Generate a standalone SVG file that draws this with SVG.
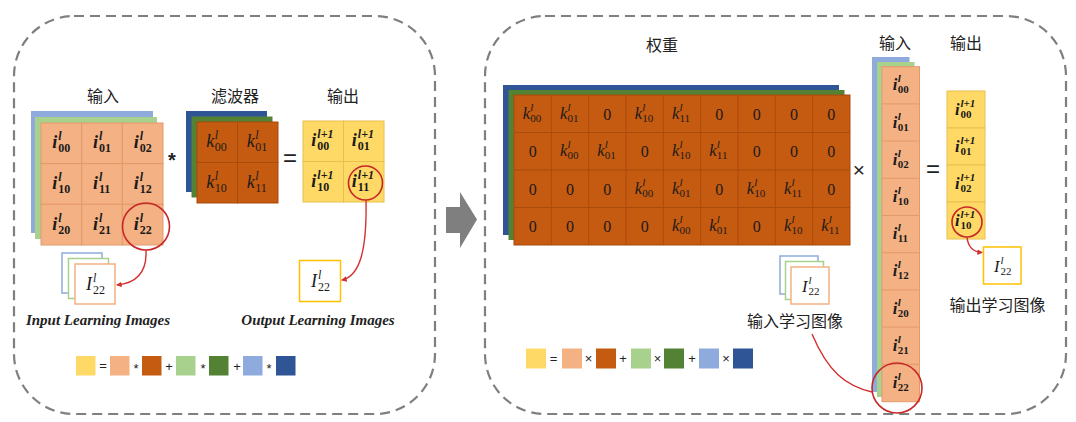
<svg xmlns="http://www.w3.org/2000/svg" width="1076" height="422" viewBox="0 0 1076 422">
  <style>
    .panel { fill: none; stroke: #7f7f7f; stroke-width: 2.2; stroke-dasharray: 10 6; }
    .lo { fill: #F4B183; stroke: #E39A6A; stroke-width: 1; }
    .do { fill: #C55A11; stroke: #A94B0C; stroke-width: 1; }
    .lg { fill: #A9D18E; }
    .dg { fill: #548235; }
    .lb { fill: #8FAADC; }
    .db { fill: #2F5597; }
    .ye { fill: #FFD966; stroke: #E8C04E; stroke-width: 1; }
    .cjk { font-family: "Noto Sans CJK SC", "Noto Sans", sans-serif; font-size: 16px; fill: #222; text-anchor: middle; }
    .op { font-family: "Liberation Sans", "DejaVu Sans", sans-serif; fill: #222; text-anchor: middle; }
    .m { font-family: "Liberation Serif", "DejaVu Serif", serif; font-size: 18px; fill: #1a1a1a; }
    .m .b { font-style: italic; }
    .m .sp { font-style: italic; font-size: 12px; }
    .m .sb { font-size: 12px; }
    .mb { font-weight: bold; }
    .mk { font-size: 16.5px; }
    .mk .sp, .mk .sb { font-size: 11px; }
    .zero { font-family: "Liberation Serif", "DejaVu Serif", serif; font-size: 16px; fill: #1a1a1a; text-anchor: middle; }
    .cap { font-family: "Liberation Serif", "Times New Roman", serif; font-style: italic; font-weight: bold; font-size: 15px; fill: #222; text-anchor: middle; }
    .ring { fill: none; stroke: #C62828; stroke-width: 1.6; }
    .link { fill: none; stroke: #D32F2F; stroke-width: 1.4; }
    .imgbox { fill: #fff; stroke-width: 1.5; }
    .leg { stroke: none; }
  </style>
  <defs>
    <marker id="arr" viewBox="0 0 6 6" refX="5" refY="3" markerWidth="4" markerHeight="4" orient="auto">
      <path d="M0,0 L6,3 L0,6 Z" fill="#D32F2F"/>
    </marker>
  </defs>

  <!-- dashed panels -->
  <rect class="panel" x="14" y="16" width="421" height="398" rx="60"/>
  <rect class="panel" x="485" y="16" width="581" height="398" rx="60"/>

  <!-- transition arrow between panels -->
  <polygon points="446,207 460,207 460,192 477,219.5 460,248 460,233 446,233" fill="#7f7f7f"/>

  <!-- ===== left panel ===== -->
  <g id="input-grid">
    <text class="cjk" x="103" y="102">输入</text>
    <rect class="lb" x="31" y="111" width="122" height="122"/>
    <rect class="lg" x="35" y="117" width="122" height="122"/>
    <g>
      <rect class="lo" x="41" y="123" width="40.7" height="40.7"/>
      <rect class="lo" x="81.7" y="123" width="40.7" height="40.7"/>
      <rect class="lo" x="122.3" y="123" width="40.7" height="40.7"/>
      <rect class="lo" x="41" y="163.7" width="40.7" height="40.7"/>
      <rect class="lo" x="81.7" y="163.7" width="40.7" height="40.7"/>
      <rect class="lo" x="122.3" y="163.7" width="40.7" height="40.7"/>
      <rect class="lo" x="41" y="204.3" width="40.7" height="40.7"/>
      <rect class="lo" x="81.7" y="204.3" width="40.7" height="40.7"/>
      <rect class="lo" x="122.3" y="204.3" width="40.7" height="40.7"/>
    </g>
    <text class="m mb" transform="translate(61.3,143.3)"><tspan class="b" x="-9" y="5">i</tspan><tspan class="sp" x="-3" y="-3">l</tspan><tspan class="sb" x="-3" y="9">00</tspan></text>
    <text class="m mb" transform="translate(102,143.3)"><tspan class="b" x="-9" y="5">i</tspan><tspan class="sp" x="-3" y="-3">l</tspan><tspan class="sb" x="-3" y="9">01</tspan></text>
    <text class="m mb" transform="translate(142.7,143.3)"><tspan class="b" x="-9" y="5">i</tspan><tspan class="sp" x="-3" y="-3">l</tspan><tspan class="sb" x="-3" y="9">02</tspan></text>
    <text class="m mb" transform="translate(61.3,184)"><tspan class="b" x="-9" y="5">i</tspan><tspan class="sp" x="-3" y="-3">l</tspan><tspan class="sb" x="-3" y="9">10</tspan></text>
    <text class="m mb" transform="translate(102,184)"><tspan class="b" x="-9" y="5">i</tspan><tspan class="sp" x="-3" y="-3">l</tspan><tspan class="sb" x="-3" y="9">11</tspan></text>
    <text class="m mb" transform="translate(142.7,184)"><tspan class="b" x="-9" y="5">i</tspan><tspan class="sp" x="-3" y="-3">l</tspan><tspan class="sb" x="-3" y="9">12</tspan></text>
    <text class="m mb" transform="translate(61.3,224.7)"><tspan class="b" x="-9" y="5">i</tspan><tspan class="sp" x="-3" y="-3">l</tspan><tspan class="sb" x="-3" y="9">20</tspan></text>
    <text class="m mb" transform="translate(102,224.7)"><tspan class="b" x="-9" y="5">i</tspan><tspan class="sp" x="-3" y="-3">l</tspan><tspan class="sb" x="-3" y="9">21</tspan></text>
    <text class="m mb" transform="translate(142.7,224.7)"><tspan class="b" x="-9" y="5">i</tspan><tspan class="sp" x="-3" y="-3">l</tspan><tspan class="sb" x="-3" y="9">22</tspan></text>
    <circle class="ring" cx="146" cy="226.5" r="23.5"/>
  </g>

  <text class="op" x="172" y="167" font-size="20" font-weight="bold">*</text>

  <g id="filter">
    <text class="cjk" x="235" y="102">滤波器</text>
    <rect class="db" x="186" y="111" width="81" height="81"/>
    <rect class="dg" x="191.5" y="116.5" width="81" height="81"/>
    <rect class="do" x="197" y="122" width="40.5" height="40.5"/>
    <rect class="do" x="237.5" y="122" width="40.5" height="40.5"/>
    <rect class="do" x="197" y="162.5" width="40.5" height="40.5"/>
    <rect class="do" x="237.5" y="162.5" width="40.5" height="40.5"/>
    <text class="m" transform="translate(217.3,142.3)"><tspan class="b" x="-11" y="5">k</tspan><tspan class="sp" x="-2.5" y="-3">l</tspan><tspan class="sb" x="-2.5" y="9">00</tspan></text>
    <text class="m" transform="translate(257.8,142.3)"><tspan class="b" x="-11" y="5">k</tspan><tspan class="sp" x="-2.5" y="-3">l</tspan><tspan class="sb" x="-2.5" y="9">01</tspan></text>
    <text class="m" transform="translate(217.3,182.8)"><tspan class="b" x="-11" y="5">k</tspan><tspan class="sp" x="-2.5" y="-3">l</tspan><tspan class="sb" x="-2.5" y="9">10</tspan></text>
    <text class="m" transform="translate(257.8,182.8)"><tspan class="b" x="-11" y="5">k</tspan><tspan class="sp" x="-2.5" y="-3">l</tspan><tspan class="sb" x="-2.5" y="9">11</tspan></text>
  </g>

  <text class="op" x="290" y="166" font-size="24">=</text>

  <g id="output-grid">
    <text class="cjk" x="343" y="102">输出</text>
    <rect class="ye" x="303" y="121" width="40.5" height="40.5"/>
    <rect class="ye" x="343.5" y="121" width="40.5" height="40.5"/>
    <rect class="ye" x="303" y="161.5" width="40.5" height="40.5"/>
    <rect class="ye" x="343.5" y="161.5" width="40.5" height="40.5"/>
    <text class="m mb" transform="translate(323.3,141.3)"><tspan class="b" x="-12" y="5">i</tspan><tspan class="sp" x="-6" y="-3">l+1</tspan><tspan class="sb" x="-6" y="9">00</tspan></text>
    <text class="m mb" transform="translate(363.8,141.3)"><tspan class="b" x="-12" y="5">i</tspan><tspan class="sp" x="-6" y="-3">l+1</tspan><tspan class="sb" x="-6" y="9">01</tspan></text>
    <text class="m mb" transform="translate(323.3,181.8)"><tspan class="b" x="-12" y="5">i</tspan><tspan class="sp" x="-6" y="-3">l+1</tspan><tspan class="sb" x="-6" y="9">10</tspan></text>
    <text class="m mb" transform="translate(363.8,181.8)"><tspan class="b" x="-12" y="5">i</tspan><tspan class="sp" x="-6" y="-3">l+1</tspan><tspan class="sb" x="-6" y="9">11</tspan></text>
    <circle class="ring" cx="365.5" cy="183" r="17"/>
  </g>

  <g id="input-images-left">
    <rect class="imgbox" x="62" y="253" width="40" height="40" stroke="#8FAADC"/>
    <rect class="imgbox" x="68.5" y="258.5" width="40" height="40" stroke="#A9D18E"/>
    <rect class="imgbox" x="75" y="264" width="40" height="40" stroke="#F4B183"/>
    <text class="m" transform="translate(95,284)"><tspan class="b" x="-9" y="6">I</tspan><tspan class="sp" x="-2" y="-2">l</tspan><tspan class="sb" x="-2" y="10">22</tspan></text>
    <text class="cap" x="98" y="325">Input Learning Images</text>
  </g>

  <g id="output-image-left">
    <rect class="imgbox" x="299.5" y="260.5" width="41" height="41" stroke="#FFC000"/>
    <text class="m" transform="translate(320,281)"><tspan class="b" x="-9" y="6">I</tspan><tspan class="sp" x="-2" y="-2">l</tspan><tspan class="sb" x="-2" y="10">22</tspan></text>
    <text class="cap" x="318" y="325">Output Learning Images</text>
  </g>

  <g id="legend-left">
    <rect class="leg" x="76" y="356" width="19.5" height="19.5" fill="#FFD966"/>
    <text class="op" x="103" y="370" font-size="13">=</text>
    <rect class="leg" x="110" y="356" width="19.5" height="19.5" fill="#F4B183"/>
    <text class="op" x="136" y="373" font-size="13">*</text>
    <rect class="leg" x="142" y="356" width="19.5" height="19.5" fill="#C55A11"/>
    <text class="op" x="169" y="371" font-size="13">+</text>
    <rect class="leg" x="176" y="356" width="19.5" height="19.5" fill="#A9D18E"/>
    <text class="op" x="203" y="373" font-size="13">*</text>
    <rect class="leg" x="209" y="356" width="19.5" height="19.5" fill="#548235"/>
    <text class="op" x="237" y="371" font-size="13">+</text>
    <rect class="leg" x="243" y="356" width="19.5" height="19.5" fill="#8FAADC"/>
    <text class="op" x="269" y="373" font-size="13">*</text>
    <rect class="leg" x="276" y="356" width="19.5" height="19.5" fill="#2F5597"/>
  </g>

  <!-- ===== right panel ===== -->
  <g id="weights">
    <text class="cjk" x="662" y="51">权重</text>
    <rect class="db" x="503" y="85" width="336" height="150"/>
    <rect class="dg" x="508.5" y="90" width="336" height="150"/>
    <rect class="do" x="514" y="95" width="336" height="150"/>
    <g stroke="#A94B0C" stroke-width="1">
      <line x1="551.3" y1="95" x2="551.3" y2="245"/>
      <line x1="588.7" y1="95" x2="588.7" y2="245"/>
      <line x1="626" y1="95" x2="626" y2="245"/>
      <line x1="663.3" y1="95" x2="663.3" y2="245"/>
      <line x1="700.7" y1="95" x2="700.7" y2="245"/>
      <line x1="738" y1="95" x2="738" y2="245"/>
      <line x1="775.3" y1="95" x2="775.3" y2="245"/>
      <line x1="812.7" y1="95" x2="812.7" y2="245"/>
      <line x1="514" y1="132.5" x2="850" y2="132.5"/>
      <line x1="514" y1="170" x2="850" y2="170"/>
      <line x1="514" y1="207.5" x2="850" y2="207.5"/>
    </g>
    <!-- row 0 -->
    <text class="m mk" transform="translate(532.7,113.8)"><tspan class="b" x="-10" y="5">k</tspan><tspan class="sp" x="-2.5" y="-3">l</tspan><tspan class="sb" x="-2.5" y="8">00</tspan></text>
    <text class="m mk" transform="translate(570,113.8)"><tspan class="b" x="-10" y="5">k</tspan><tspan class="sp" x="-2.5" y="-3">l</tspan><tspan class="sb" x="-2.5" y="8">01</tspan></text>
    <text class="zero" x="607.3" y="119.5">0</text>
    <text class="m mk" transform="translate(644.7,113.8)"><tspan class="b" x="-10" y="5">k</tspan><tspan class="sp" x="-2.5" y="-3">l</tspan><tspan class="sb" x="-2.5" y="8">10</tspan></text>
    <text class="m mk" transform="translate(682,113.8)"><tspan class="b" x="-10" y="5">k</tspan><tspan class="sp" x="-2.5" y="-3">l</tspan><tspan class="sb" x="-2.5" y="8">11</tspan></text>
    <text class="zero" x="719.3" y="119.5">0</text>
    <text class="zero" x="756.7" y="119.5">0</text>
    <text class="zero" x="794" y="119.5">0</text>
    <text class="zero" x="831.3" y="119.5">0</text>
    <!-- row 1 -->
    <text class="zero" x="532.7" y="157">0</text>
    <text class="m mk" transform="translate(570,151.3)"><tspan class="b" x="-10" y="5">k</tspan><tspan class="sp" x="-2.5" y="-3">l</tspan><tspan class="sb" x="-2.5" y="8">00</tspan></text>
    <text class="m mk" transform="translate(607.3,151.3)"><tspan class="b" x="-10" y="5">k</tspan><tspan class="sp" x="-2.5" y="-3">l</tspan><tspan class="sb" x="-2.5" y="8">01</tspan></text>
    <text class="zero" x="644.7" y="157">0</text>
    <text class="m mk" transform="translate(682,151.3)"><tspan class="b" x="-10" y="5">k</tspan><tspan class="sp" x="-2.5" y="-3">l</tspan><tspan class="sb" x="-2.5" y="8">10</tspan></text>
    <text class="m mk" transform="translate(719.3,151.3)"><tspan class="b" x="-10" y="5">k</tspan><tspan class="sp" x="-2.5" y="-3">l</tspan><tspan class="sb" x="-2.5" y="8">11</tspan></text>
    <text class="zero" x="756.7" y="157">0</text>
    <text class="zero" x="794" y="157">0</text>
    <text class="zero" x="831.3" y="157">0</text>
    <!-- row 2 -->
    <text class="zero" x="532.7" y="194.5">0</text>
    <text class="zero" x="570" y="194.5">0</text>
    <text class="zero" x="607.3" y="194.5">0</text>
    <text class="m mk" transform="translate(644.7,188.8)"><tspan class="b" x="-10" y="5">k</tspan><tspan class="sp" x="-2.5" y="-3">l</tspan><tspan class="sb" x="-2.5" y="8">00</tspan></text>
    <text class="m mk" transform="translate(682,188.8)"><tspan class="b" x="-10" y="5">k</tspan><tspan class="sp" x="-2.5" y="-3">l</tspan><tspan class="sb" x="-2.5" y="8">01</tspan></text>
    <text class="zero" x="719.3" y="194.5">0</text>
    <text class="m mk" transform="translate(756.7,188.8)"><tspan class="b" x="-10" y="5">k</tspan><tspan class="sp" x="-2.5" y="-3">l</tspan><tspan class="sb" x="-2.5" y="8">10</tspan></text>
    <text class="m mk" transform="translate(794,188.8)"><tspan class="b" x="-10" y="5">k</tspan><tspan class="sp" x="-2.5" y="-3">l</tspan><tspan class="sb" x="-2.5" y="8">11</tspan></text>
    <text class="zero" x="831.3" y="194.5">0</text>
    <!-- row 3 -->
    <text class="zero" x="532.7" y="232">0</text>
    <text class="zero" x="570" y="232">0</text>
    <text class="zero" x="607.3" y="232">0</text>
    <text class="zero" x="644.7" y="232">0</text>
    <text class="m mk" transform="translate(682,226.3)"><tspan class="b" x="-10" y="5">k</tspan><tspan class="sp" x="-2.5" y="-3">l</tspan><tspan class="sb" x="-2.5" y="8">00</tspan></text>
    <text class="m mk" transform="translate(719.3,226.3)"><tspan class="b" x="-10" y="5">k</tspan><tspan class="sp" x="-2.5" y="-3">l</tspan><tspan class="sb" x="-2.5" y="8">01</tspan></text>
    <text class="zero" x="756.7" y="232">0</text>
    <text class="m mk" transform="translate(794,226.3)"><tspan class="b" x="-10" y="5">k</tspan><tspan class="sp" x="-2.5" y="-3">l</tspan><tspan class="sb" x="-2.5" y="8">10</tspan></text>
    <text class="m mk" transform="translate(831.3,226.3)"><tspan class="b" x="-10" y="5">k</tspan><tspan class="sp" x="-2.5" y="-3">l</tspan><tspan class="sb" x="-2.5" y="8">11</tspan></text>
  </g>

  <text class="op" x="859" y="177" font-size="21">×</text>

  <g id="input-column">
    <text class="cjk" x="895" y="49">输入</text>
    <rect class="lb" x="872" y="57" width="37.5" height="335"/>
    <rect class="lg" x="877" y="62" width="37.5" height="335"/>
    <rect class="lo" x="882" y="66.7" width="37.5" height="335"/>
    <g stroke="#E39A6A" stroke-width="1">
      <line x1="882" y1="103.9" x2="919.5" y2="103.9"/>
      <line x1="882" y1="141.1" x2="919.5" y2="141.1"/>
      <line x1="882" y1="178.3" x2="919.5" y2="178.3"/>
      <line x1="882" y1="215.5" x2="919.5" y2="215.5"/>
      <line x1="882" y1="252.7" x2="919.5" y2="252.7"/>
      <line x1="882" y1="289.9" x2="919.5" y2="289.9"/>
      <line x1="882" y1="327.1" x2="919.5" y2="327.1"/>
      <line x1="882" y1="364.3" x2="919.5" y2="364.3"/>
    </g>
    <text class="m mb mk" transform="translate(900.7,85.3)"><tspan class="b" x="-8" y="5">i</tspan><tspan class="sp" x="-3" y="-3">l</tspan><tspan class="sb" x="-3" y="8">00</tspan></text>
    <text class="m mb mk" transform="translate(900.7,122.5)"><tspan class="b" x="-8" y="5">i</tspan><tspan class="sp" x="-3" y="-3">l</tspan><tspan class="sb" x="-3" y="8">01</tspan></text>
    <text class="m mb mk" transform="translate(900.7,159.7)"><tspan class="b" x="-8" y="5">i</tspan><tspan class="sp" x="-3" y="-3">l</tspan><tspan class="sb" x="-3" y="8">02</tspan></text>
    <text class="m mb mk" transform="translate(900.7,196.9)"><tspan class="b" x="-8" y="5">i</tspan><tspan class="sp" x="-3" y="-3">l</tspan><tspan class="sb" x="-3" y="8">10</tspan></text>
    <text class="m mb mk" transform="translate(900.7,234.1)"><tspan class="b" x="-8" y="5">i</tspan><tspan class="sp" x="-3" y="-3">l</tspan><tspan class="sb" x="-3" y="8">11</tspan></text>
    <text class="m mb mk" transform="translate(900.7,271.3)"><tspan class="b" x="-8" y="5">i</tspan><tspan class="sp" x="-3" y="-3">l</tspan><tspan class="sb" x="-3" y="8">12</tspan></text>
    <text class="m mb mk" transform="translate(900.7,308.5)"><tspan class="b" x="-8" y="5">i</tspan><tspan class="sp" x="-3" y="-3">l</tspan><tspan class="sb" x="-3" y="8">20</tspan></text>
    <text class="m mb mk" transform="translate(900.7,345.7)"><tspan class="b" x="-8" y="5">i</tspan><tspan class="sp" x="-3" y="-3">l</tspan><tspan class="sb" x="-3" y="8">21</tspan></text>
    <text class="m mb mk" transform="translate(900.7,382.9)"><tspan class="b" x="-8" y="5">i</tspan><tspan class="sp" x="-3" y="-3">l</tspan><tspan class="sb" x="-3" y="8">22</tspan></text>
    <circle class="ring" cx="897" cy="388" r="25"/>
  </g>

  <text class="op" x="933" y="177" font-size="24">=</text>

  <g id="output-column">
    <text class="cjk" x="966" y="49">输出</text>
    <rect class="ye" x="947" y="91" width="38" height="37"/>
    <rect class="ye" x="947" y="128" width="38" height="37"/>
    <rect class="ye" x="947" y="165" width="38" height="37"/>
    <rect class="ye" x="947" y="202" width="38" height="37"/>
    <text class="m mb mk" transform="translate(966,109.5)"><tspan class="b" x="-11" y="5">i</tspan><tspan class="sp" x="-5.5" y="-3">l+1</tspan><tspan class="sb" x="-5.5" y="8">00</tspan></text>
    <text class="m mb mk" transform="translate(966,146.5)"><tspan class="b" x="-11" y="5">i</tspan><tspan class="sp" x="-5.5" y="-3">l+1</tspan><tspan class="sb" x="-5.5" y="8">01</tspan></text>
    <text class="m mb mk" transform="translate(966,183.5)"><tspan class="b" x="-11" y="5">i</tspan><tspan class="sp" x="-5.5" y="-3">l+1</tspan><tspan class="sb" x="-5.5" y="8">02</tspan></text>
    <text class="m mb mk" transform="translate(966,220.5)"><tspan class="b" x="-11" y="5">i</tspan><tspan class="sp" x="-5.5" y="-3">l+1</tspan><tspan class="sb" x="-5.5" y="8">10</tspan></text>
    <circle class="ring" cx="967" cy="222" r="15"/>
  </g>

  <g id="input-images-right">
    <rect class="imgbox" x="780" y="256" width="38" height="38" stroke="#8FAADC"/>
    <rect class="imgbox" x="785.5" y="261.5" width="38" height="38" stroke="#A9D18E"/>
    <rect class="imgbox" x="791" y="267" width="38" height="37" stroke="#F4B183"/>
    <text class="m mk" transform="translate(810,285.5)"><tspan class="b" x="-8" y="6">I</tspan><tspan class="sp" x="-1.5" y="-2">l</tspan><tspan class="sb" x="-1.5" y="9">22</tspan></text>
    <text class="cjk" x="795" y="327" font-size="17">输入学习图像</text>
  </g>

  <g id="output-image-right">
    <rect class="imgbox" x="983.5" y="247" width="37.5" height="37" stroke="#FFC000"/>
    <text class="m mk" transform="translate(1002,265.5)"><tspan class="b" x="-8" y="6">I</tspan><tspan class="sp" x="-1.5" y="-2">l</tspan><tspan class="sb" x="-1.5" y="9">22</tspan></text>
    <text class="cjk" x="997.5" y="311" font-size="17">输出学习图像</text>
  </g>

  <g id="legend-right">
    <rect class="leg" x="526" y="348.5" width="20" height="20" fill="#FFD966"/>
    <text class="op" x="553.5" y="363" font-size="13">=</text>
    <rect class="leg" x="562" y="348.5" width="20" height="20" fill="#F4B183"/>
    <text class="op" x="588.5" y="363" font-size="13">×</text>
    <rect class="leg" x="596" y="348.5" width="20" height="20" fill="#C55A11"/>
    <text class="op" x="623" y="363" font-size="13">+</text>
    <rect class="leg" x="631" y="348.5" width="20" height="20" fill="#A9D18E"/>
    <text class="op" x="657.5" y="363" font-size="13">×</text>
    <rect class="leg" x="664" y="348.5" width="20" height="20" fill="#548235"/>
    <text class="op" x="692" y="363" font-size="13">+</text>
    <rect class="leg" x="699" y="348.5" width="20" height="20" fill="#8FAADC"/>
    <text class="op" x="726" y="363" font-size="13">×</text>
    <rect class="leg" x="733" y="348.5" width="20" height="20" fill="#2F5597"/>
  </g>

  <!-- links from highlighted cells to their learning images -->
  <g id="connectors">
    <path class="link" d="M146,250 C147,270 138,283 117,285" marker-end="url(#arr)"/>
    <path class="link" d="M366,200 C367,250 360,276 342,280" marker-end="url(#arr)"/>
    <path class="link" d="M967,237 C968,247 974,252 982,252.5" marker-end="url(#arr)"/>
    <path class="link" d="M812,334 C828,372 846,386 872,392"/>
  </g>
</svg>
